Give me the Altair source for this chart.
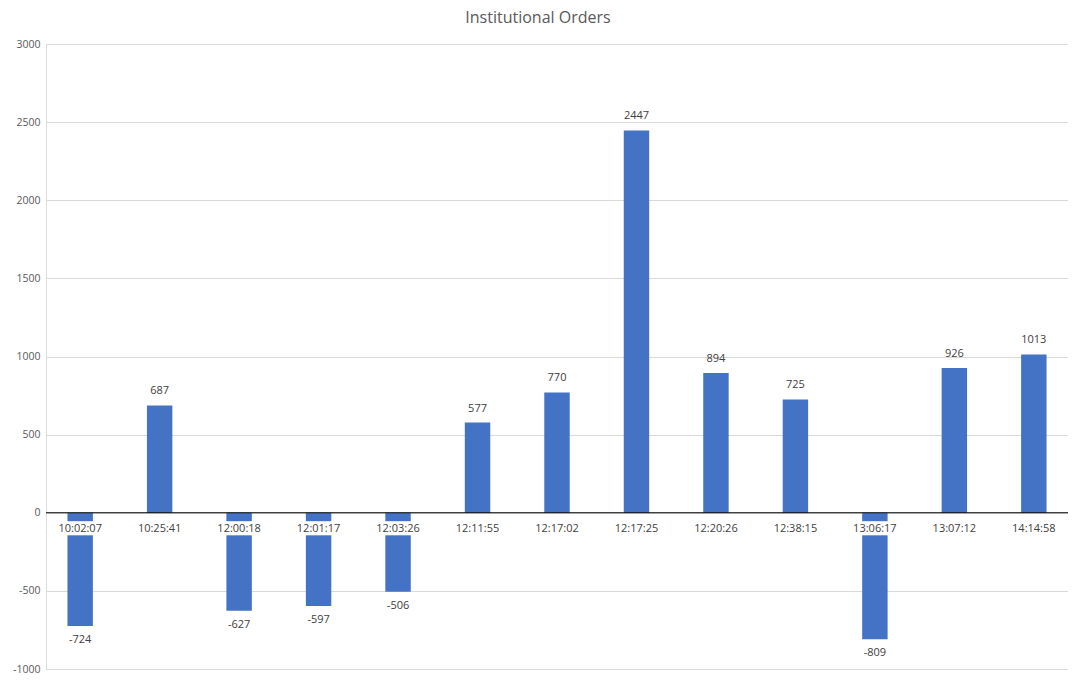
import altair as alt
import pandas as pd

times = ["10:02:07", "10:25:41", "12:00:18", "12:01:17", "12:03:26", "12:11:55",
         "12:17:02", "12:17:25", "12:20:26", "12:38:15", "13:06:17", "13:07:12", "14:14:58"]
values = [-724, 687, -627, -597, -506, 577, 770, 2447, 894, 725, -809, 926, 1013]
yticks = [-1000, -500, 0, 500, 1000, 1500, 2000, 2500, 3000]

df = pd.DataFrame({"time": times, "value": values})

FONT = "Open Sans"
x = alt.X("time:N", sort=times, axis=None,
          scale=alt.Scale(paddingInner=0.68, paddingOuter=0.27))
yscale = alt.Scale(domain=[-1000, 3000], nice=False)
y = alt.Y("value:Q", scale=yscale,
          axis=alt.Axis(values=yticks, labelExpr="'' + datum.value",
                        title=None, domain=False, ticks=False, labelPadding=6,
                        labelFont=FONT, labelFontSize=10.5, labelColor="#595959",
                        grid=True, gridColor="#d9d9d9", gridWidth=1))

base = alt.Chart(df).transform_calculate(z="0", label="'' + datum.value")

bars = base.mark_bar(color="#4472C4").encode(x=x, y=y)

zero = base.transform_filter("datum.time == '10:02:07'").mark_rule(
    color="#000000", strokeWidth=1).encode(y=alt.Y("z:Q", scale=yscale))

box = base.mark_point(
    shape="M-1,-0.47L1,-0.47L1,0.47L-1,0.47Z", size=900, filled=True,
    fill="white", opacity=1, strokeWidth=0, yOffset=15.5
).encode(x=x, y=alt.Y("z:Q", scale=yscale))

xlabels = base.mark_text(
    font=FONT, fontSize=11, color="#404040", baseline="middle", yOffset=16
).encode(x=x, y=alt.Y("z:Q", scale=yscale), text="time:N")

vpos = base.transform_filter("datum.value >= 0").mark_text(
    font=FONT, fontSize=11, color="#404040", baseline="middle", dy=-14
).encode(x=x, y=alt.Y("value:Q", scale=yscale), text="label:N")

vneg = base.transform_filter("datum.value < 0").mark_text(
    font=FONT, fontSize=11, color="#404040", baseline="middle", dy=14
).encode(x=x, y=alt.Y("value:Q", scale=yscale), text="label:N")

chart = alt.layer(bars, zero, box, xlabels, vpos, vneg).properties(
    width=1022, height=625,
    title=alt.TitleParams("Institutional Orders", font=FONT, fontSize=16,
                          fontWeight="normal", color="#595959", anchor="middle",
                          dx=-19, offset=13),
    autosize=alt.AutoSizeParams(type="none"),
    padding={"left": 38, "top": 36, "right": 0, "bottom": 10},
).configure_view(stroke=None).configure(background="white")

chart.save("out.html", embed_options={"renderer": "svg", "actions": False})
